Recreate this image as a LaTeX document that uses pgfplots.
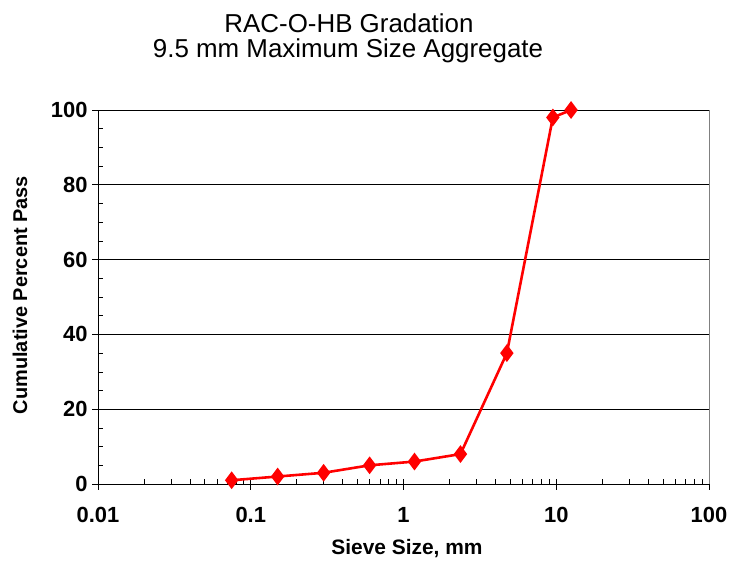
\documentclass[border=0pt]{standalone}
\usepackage{fontspec}
\setmainfont{Liberation Sans}
\usepackage{pgfplots}
\pgfplotsset{compat=1.18}

\begin{document}
\begin{tikzpicture}
\useasboundingbox (-98bp,-79bp) rectangle (632bp,484bp);
\begin{axis}[
    at={(0,0)}, anchor=south west,
    scale only axis,
    width=611bp, height=374bp,
    xmode=log,
    xmin=0.01, xmax=100,
    ymin=0, ymax=100,
    xtick={0.01,0.1,1,10,100},
    xticklabels={0.01,0.1,1,10,100},
    ytick={0,20,40,60,80,100},
    minor ytick={5,10,15,25,30,35,45,50,55,65,70,75,85,90,95},
    xtick pos=lower, ytick pos=left,
    ymajorgrids,
    major grid style={black, line width=0.6pt},
    axis line style={black, line width=0.8pt},
    tick style={black, line width=0.6pt},
    tick align=inside,
    major tick length=-6bp,
    minor tick length=5bp,
    tick label style={font=\fontsize{22}{24}\selectfont\bfseries},
    /pgf/number format/assume math mode=true,
    xticklabel style={yshift=-20bp},
    yticklabel style={xshift=-7bp},
    clip=false,
]
\addplot[red, line width=2.6pt, mark=diamond*,
  mark options={solid, fill=red, scale=3.4}] coordinates {
    (0.075,1) (0.15,2) (0.3,3) (0.6,5) (1.18,6)
    (2.36,8) (4.75,35) (9.5,98) (12.5,100)
};
\end{axis}
\draw[gray, line width=0.8pt] (611bp,0) -- (611bp,374bp);
\node[font=\fontsize{26}{28}\selectfont] at (251bp,461bp) {RAC-O-HB Gradation};
\node[font=\fontsize{26}{28}\selectfont] at (250bp,433bp) {9.5 mm Maximum Size Aggregate};
\node[font=\fontsize{21}{23}\selectfont\bfseries] at (309bp,-65bp) {Sieve Size, mm};
\node[font=\fontsize{20}{22}\selectfont\bfseries, rotate=90] at (-78bp,189bp) {Cumulative Percent Pass};
\end{tikzpicture}
\end{document}
